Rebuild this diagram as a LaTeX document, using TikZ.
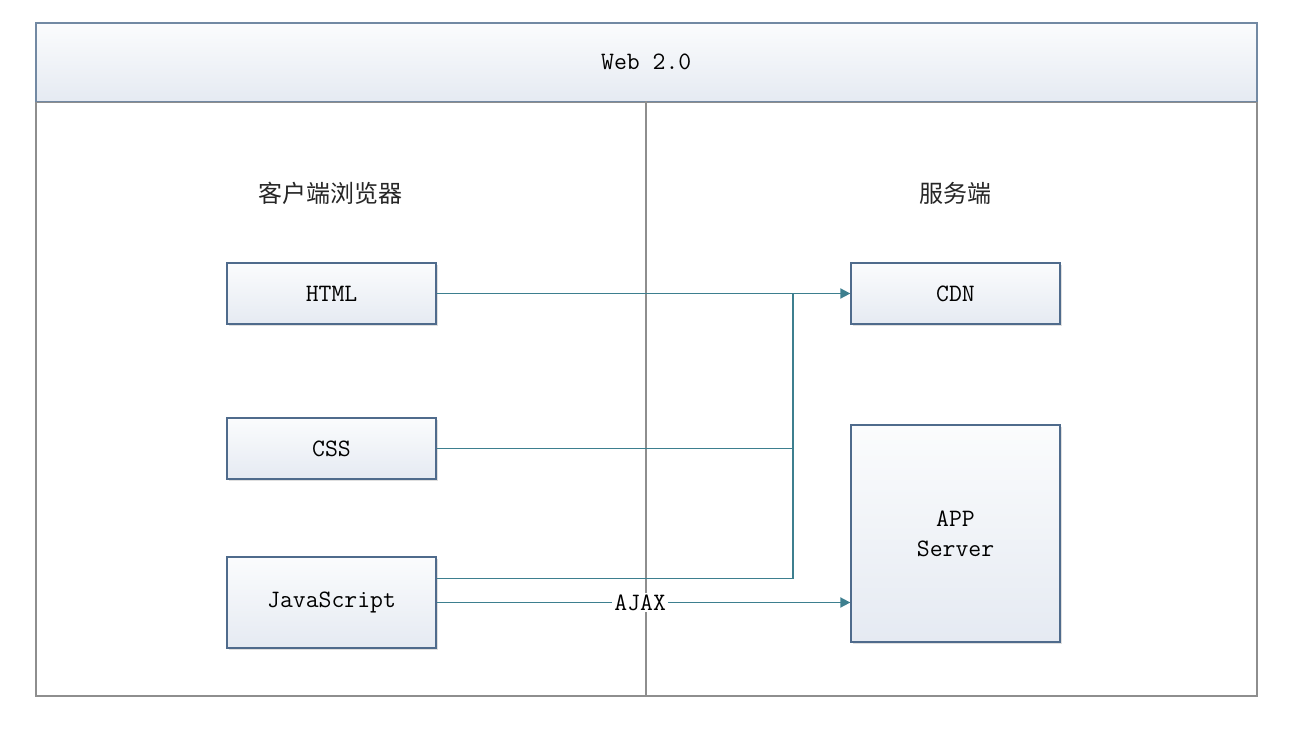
\documentclass[tikz,border=0pt]{standalone}
\usepackage{fontspec}
\newfontfamily\cjk{Noto Sans CJK SC}
\usetikzlibrary{arrows.meta,shadows}
\definecolor{conncol}{HTML}{3D7F8F}
\definecolor{boxborder}{HTML}{4F6B8C}
\definecolor{framegray}{HTML}{8E8E8E}
\definecolor{boxtop}{HTML}{FBFCFD}
\definecolor{boxbot}{HTML}{E5EAF2}
\begin{document}
\begin{tikzpicture}[x=1pt,y=-1pt,
  mono/.style={font=\fontsize{25}{29}\selectfont\ttfamily},
  box/.style={mono, draw=boxborder, line width=1.3pt, top color=boxtop, bottom color=boxbot,
    minimum width=209pt, inner sep=0pt, align=center,
    drop shadow={shadow xshift=1.5pt, shadow yshift=-1.5pt, opacity=0.25, fill=gray}},
  conn/.style={draw=conncol, line width=1.8pt},
  arr/.style={conn, -{Triangle[length=10pt, width=10pt]}},
  cn/.style={font=\fontsize{24}{28}\selectfont\cjk, text=black!85},
  divider/.style={draw=framegray, line width=1.4pt}
]
\useasboundingbox (0,0) rectangle (1291,731);
\fill[white] (0,0) rectangle (1291,731);

% frame
\node (frame) [draw=framegray, line width=1.8pt, minimum width=1221pt, minimum height=673pt,
  inner sep=0pt, anchor=north west] at (35,22) {};
\node (title) [mono, anchor=north west, minimum width=1221pt, minimum height=79pt, inner sep=0pt,
  top color=boxtop, bottom color=boxbot, draw=boxborder!80, line width=1.6pt] at (35,22) {Web 2.0};
\draw[divider] (title.south west) -- (title.south east);
\draw[divider] (646,101) coordinate (dtop) -- (646,695) coordinate (dbot);

% headings
\node (client) [cn] at (330,193) {客户端浏览器};
\node (server) [cn] at (955,193) {服务端};

% boxes
\node (html) [box, minimum height=61pt] at (331.5,293.5) {HTML};
\node (css)  [box, minimum height=61pt] at (331.5,448.5) {CSS};
\node (js)   [box, minimum height=91pt] at (331.5,602.5) {JavaScript};
\node (cdn)  [box, minimum height=61pt] at (955.5,293.5) {CDN};
\node (app)  [box, minimum height=217pt] at (955.5,533.5) {APP\\[1pt]Server};

% connectors
\coordinate (jx) at (793,0);
\draw[arr] (html.east) -- (cdn.west);
\draw[conn] (css.east) -- (css.east -| jx);
\draw[conn] ([yshift=24pt]js.east) -- ([yshift=24pt]js.east -| jx);
\draw[conn] ([yshift=24pt]js.east -| jx) -- (html.east -| jx);
\draw[arr] (js.east) -- node[mono, fill=white, inner sep=2pt, pos=0.492] (ajax) {AJAX} (js.east -| app.west);
\end{tikzpicture}
\end{document}
